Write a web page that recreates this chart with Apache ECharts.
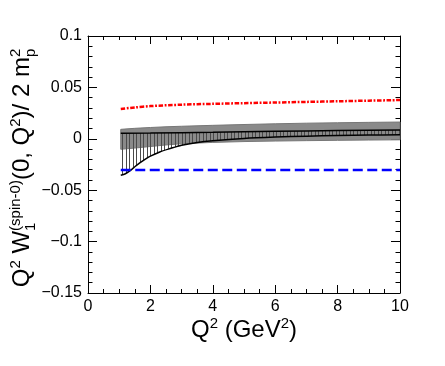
<!DOCTYPE html>
<html>
<head>
<meta charset="utf-8">
<script src="https://cdn.jsdelivr.net/npm/echarts@6/dist/echarts.min.js"></script>
<style>
html, body { margin: 0; padding: 0; background: #fff; }
#chart { width: 445px; height: 366px; }
</style>
</head>
<body>
<div id="chart"></div>
<script>
// axis ticks
const xTicks = [0, 2, 4, 6, 8, 10];
const yTicks = [-0.15, -0.1, -0.05, 0, 0.05, 0.1];

// gray error band
const bandX  = [1.05, 1.5, 2, 2.5, 3, 4, 5, 6, 7, 8, 9, 10];
const bandHi = [0.0092, 0.0102, 0.011, 0.0117, 0.0122, 0.0131, 0.0139, 0.0146, 0.0152, 0.0156, 0.016, 0.0163];
const bandLo = [-0.0102, -0.009, -0.0075, -0.006, -0.0048, -0.0035, -0.0027, -0.0022, -0.0018, -0.0015, -0.0012, -0.001];

// hatched region: upper line and lower curve
const upperX = [1.05, 2, 3, 4, 5, 6, 7, 8, 9, 10];
const upperY = [0.0053, 0.0056, 0.006, 0.0064, 0.0069, 0.0073, 0.0077, 0.008, 0.0083, 0.0086];
const lowerX = [1.05, 1.2, 1.35, 1.5, 1.67, 1.85, 2, 2.3, 2.6, 3, 3.5, 4, 5, 6, 7, 8, 9, 10];
const lowerY = [-0.0355, -0.034, -0.031, -0.0272, -0.0232, -0.0195, -0.0168, -0.0128, -0.0098, -0.0062, -0.0035, -0.0018, 0.0004, 0.0017, 0.0026, 0.0032, 0.0036, 0.0039];

// red dash-dot curve
const redX = [1.05, 1.5, 2, 3, 4, 5, 6, 7, 8, 9, 10];
const redY = [0.029, 0.0305, 0.0318, 0.0332, 0.034, 0.0347, 0.0353, 0.0359, 0.0365, 0.0371, 0.0377];

// blue dashed line
const blueX = [1.05, 10];
const blueY = [-0.0303, -0.0303];

const FONT = 'Liberation Sans';
const zip = (xs, ys) => xs.map((x, i) => [x, ys[i]]);

// vertical hatch pattern
const hatch = document.createElement('canvas');
hatch.width = 7; hatch.height = 4;
const hc = hatch.getContext('2d');
hc.fillStyle = '#4a4a4a';
hc.fillRect(0, 0, 1, 4);
hc.fillRect(3, 0, 1, 4);

// title layout with super/subscripts, placed as separate text pieces
const mctx = document.createElement('canvas').getContext('2d');
const tw = (t, s) => { mctx.font = s + 'px "' + FONT + '"'; return mctx.measureText(t).width; };
const MAIN = 24, SMALL = 15;
const off = { main: -0.35 * MAIN, sup: -10 - 0.35 * SMALL, sub: 5 - 0.35 * SMALL };

function titleLength(pieces) {
    let u = 0;
    pieces.forEach(p => {
        const parts = Array.isArray(p[0]) ? p : [p];
        u += Math.max(...parts.map(([t, k]) => tw(t, k === 'main' ? MAIN : SMALL)));
    });
    return u;
}
// (x0, y0): start of baseline; vertical = text reads bottom to top
function titleElements(pieces, x0, y0, vertical) {
    let u = 0;
    const out = [];
    pieces.forEach(p => {
        const parts = Array.isArray(p[0]) ? p : [p];
        let adv = 0;
        parts.forEach(([t, k]) => {
            const s = k === 'main' ? MAIN : SMALL;
            const v = off[k];
            out.push({
                type: 'text', silent: true,
                x: vertical ? x0 + v : x0 + u,
                y: vertical ? y0 - u : y0 + v,
                rotation: vertical ? Math.PI / 2 : 0,
                style: { text: t, font: s + 'px "' + FONT + '"', fill: '#000', textAlign: 'left', textVerticalAlign: 'middle' }
            });
            adv = Math.max(adv, tw(t, s));
        });
        u += adv;
    });
    return out;
}
const yTitlePieces = [['Q', 'main'], ['2', 'sup'], [' W', 'main'], [['(spin-0)', 'sup'], ['1', 'sub']],
    ['(0, Q', 'main'], ['2', 'sup'], [')/ 2 m', 'main'], [['2', 'sup'], ['p', 'sub']]];
const xTitlePieces = [['Q', 'main'], ['2', 'sup'], [' (GeV', 'main'], ['2', 'sup'], [')', 'main']];
const yLen = titleLength(yTitlePieces), xLen = titleLength(xTitlePieces);

const axisCommon = {
    type: 'value',
    axisLine: { show: true, onZero: false, lineStyle: { color: '#000', width: 1 } },
    splitLine: { show: false },
    axisTick: { show: true, inside: true, lineStyle: { color: '#000' } },
    minorTick: { show: true, lineStyle: { color: '#000' } }
};
const xBase = { ...axisCommon, min: xTicks[0], max: xTicks[xTicks.length - 1], interval: 2 };
const yBase = { ...axisCommon, min: yTicks[0], max: yTicks[yTicks.length - 1], interval: 0.05 };

const chart = echarts.init(document.getElementById('chart'));
chart.setOption({
    animation: false,
    textStyle: { fontFamily: FONT },
    grid: { left: 88, right: 45, top: 36, bottom: 73 },
    xAxis: [
        { ...xBase, position: 'bottom',
          axisTick: { ...xBase.axisTick, length: 8 }, minorTick: { ...xBase.minorTick, splitNumber: 4, length: 4 },
          axisLabel: { color: '#000', fontSize: 16, margin: 6 } },
        { ...xBase, position: 'top',
          axisTick: { ...xBase.axisTick, length: 8 }, minorTick: { ...xBase.minorTick, splitNumber: 4, length: 4 },
          axisLabel: { show: false } }
    ],
    yAxis: [
        { ...yBase, position: 'left',
          axisTick: { ...yBase.axisTick, length: 9 }, minorTick: { ...yBase.minorTick, splitNumber: 5, length: 4.5 },
          axisLabel: { color: '#000', fontSize: 16, margin: 6,
              formatter: v => { const r = Math.round(v * 100) / 100; return r < 0 ? '\u2212' + String(-r) : String(r); } } },
        { ...yBase, position: 'right',
          axisTick: { ...yBase.axisTick, length: 9 }, minorTick: { ...yBase.minorTick, splitNumber: 5, length: 4.5 },
          axisLabel: { show: false } }
    ],
    graphic: titleElements(xTitlePieces, 244 - xLen / 2, 339, false)
        .concat(titleElements(yTitlePieces, 31, 168 + yLen / 2, true)),
    series: [
        {
            type: 'custom', z: 1, silent: true,
            data: [[bandX[0], bandLo[0]]],
            renderItem: (params, api) => {
                const pts = bandX.map((x, i) => api.coord([x, bandHi[i]]))
                    .concat(bandX.map((x, i) => api.coord([x, bandLo[i]])).reverse());
                return { type: 'polygon', shape: { points: pts }, style: { fill: '#8a8a8a', stroke: '#777', lineWidth: 1 } };
            }
        },
        {
            type: 'custom', z: 2, silent: true,
            data: [[lowerX[0], lowerY[0]]],
            renderItem: (params, api) => {
                const pts = upperX.map((x, i) => api.coord([x, upperY[i]]))
                    .concat(lowerX.map((x, i) => api.coord([x, lowerY[i]])).reverse());
                return { type: 'polygon', shape: { points: pts }, style: { fill: { image: hatch, repeat: 'repeat' } } };
            }
        },
        { type: 'line', z: 3, data: zip(upperX, upperY), symbol: 'none', lineStyle: { color: '#000', width: 1.5 } },
        { type: 'line', z: 3, data: zip(lowerX, lowerY), symbol: 'none', smooth: 0.3, lineStyle: { color: '#000', width: 1.5 } },
        { type: 'line', z: 3, data: zip(redX, redY), symbol: 'none', smooth: 0.3,
          lineStyle: { color: '#ff0000', width: 2.5, type: [4.5, 1.6, 1.8, 1.6] } },
        { type: 'line', z: 3, data: zip(blueX, blueY), symbol: 'none',
          lineStyle: { color: '#0000ff', width: 2.5, type: [10, 4.5] } }
    ]
});
</script>
</body>
</html>
